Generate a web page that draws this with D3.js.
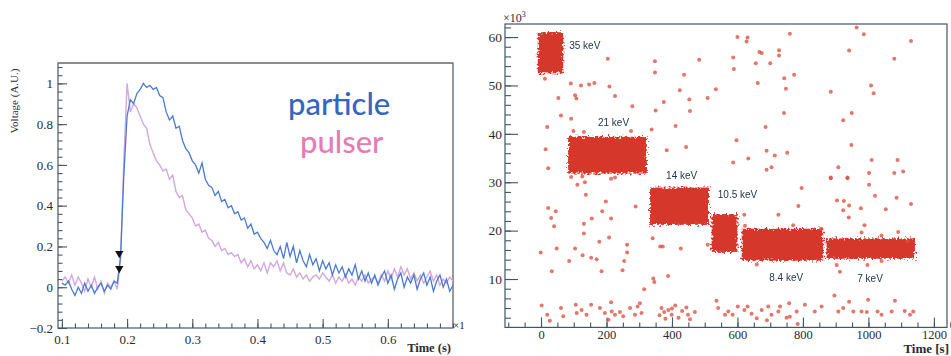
<!DOCTYPE html>
<html><head><meta charset="utf-8">
<script src="https://cdn.jsdelivr.net/npm/d3@7"></script>
<style>
html,body{margin:0;padding:0;background:#fff;}
svg{display:block;}
</style></head>
<body>
<svg id="c" width="951" height="356"></svg>
<script>
// ---------------- LEFT CHART DATA ----------------
const timeS = [0.100,0.105,0.110,0.115,0.120,0.125,0.130,0.135,0.140,0.145,0.150,0.155,0.160,0.165,0.170,0.175,0.180,0.185,0.190,0.195,
0.200,0.205,0.210,0.215,0.220,0.225,0.230,0.235,0.240,0.245,0.250,0.255,0.260,0.265,0.270,0.275,0.280,0.285,0.290,0.295,
0.300,0.305,0.310,0.315,0.320,0.325,0.330,0.335,0.340,0.345,0.350,0.355,0.360,0.365,0.370,0.375,0.380,0.385,0.390,0.395,
0.400,0.405,0.410,0.415,0.420,0.425,0.430,0.435,0.440,0.445,0.450,0.455,0.460,0.465,0.470,0.475,0.480,0.485,0.490,0.495,
0.500,0.505,0.510,0.515,0.520,0.525,0.530,0.535,0.540,0.545,0.550,0.555,0.560,0.565,0.570,0.575,0.580,0.585,0.590,0.595,
0.600,0.605,0.610,0.615,0.620,0.625,0.630,0.635,0.640,0.645,0.650,0.655,0.660,0.665,0.670,0.675,0.680,0.685,0.690,0.695,0.700];
const particleV = [0.02,0.01,0.03,-0.01,-0.04,0.00,-0.03,0.02,-0.02,0.01,-0.03,0.00,0.02,-0.02,0.01,-0.01,0.03,0.02,0.15,0.55,
0.84,0.92,0.90,0.95,0.97,1.00,0.98,0.99,0.97,0.98,0.94,0.93,0.86,0.82,0.84,0.78,0.79,0.72,0.68,0.66,
0.62,0.60,0.56,0.61,0.53,0.50,0.49,0.45,0.47,0.42,0.43,0.39,0.40,0.36,0.37,0.33,0.34,0.29,0.31,0.26,
0.27,0.24,0.22,0.19,0.23,0.18,0.16,0.20,0.14,0.22,0.15,0.20,0.12,0.18,0.13,0.10,0.16,0.11,0.14,0.08,
0.13,0.09,0.12,0.06,0.11,0.07,0.10,0.05,0.09,0.06,0.11,0.04,0.08,0.03,0.07,0.02,0.06,0.01,0.05,0.08,
0.02,0.06,-0.01,0.04,0.07,0.00,0.05,0.02,0.06,-0.01,0.04,0.07,0.01,0.05,-0.02,0.03,0.06,0.00,0.04,-0.02,0.01];
const pulserV = [0.03,0.05,0.02,0.06,0.01,0.05,0.02,-0.02,0.04,0.00,0.05,-0.01,0.03,-0.03,0.02,0.00,0.03,-0.01,0.14,0.62,
1.00,0.86,0.90,0.88,0.84,0.80,0.78,0.70,0.66,0.62,0.60,0.57,0.58,0.53,0.55,0.47,0.44,0.45,0.38,0.36,
0.34,0.30,0.31,0.27,0.28,0.24,0.23,0.20,0.22,0.18,0.19,0.16,0.17,0.15,0.16,0.12,0.14,0.10,0.13,0.09,
0.11,0.08,0.12,0.07,0.12,0.10,0.13,0.08,0.12,0.07,0.06,0.09,0.05,0.07,0.04,0.06,0.03,0.05,0.06,0.04,
0.07,0.05,0.03,0.06,0.02,0.05,0.03,0.06,0.02,0.04,0.01,0.05,0.03,0.06,0.02,0.04,0.05,0.02,0.06,0.03,
0.08,0.04,0.09,0.05,0.10,0.06,0.09,0.04,0.07,0.03,0.06,0.02,0.05,0.08,0.03,0.06,0.01,0.04,0.02,0.05,0.03];
const markerT = [0.188, 0.188];
const markerV = [0.166, 0.092];
const leftXMajor = [0.1,0.2,0.3,0.4,0.5,0.6];
const leftYMajor = [-0.2,0,0.2,0.4,0.6,0.8,1];
const legendNames = ["particle","pulser"];

// ---------------- RIGHT CHART DATA ----------------
const bandLabels = ["35 keV","21 keV","14 keV","10.5 keV","8.4 keV","7 keV"];
const bandStart = [-10, 83, 333, 521, 613, 872];
const bandEnd   = [68, 323, 513, 600, 862, 1142];
const bandLow   = [52.5, 31.8, 21.2, 15.6, 13.8, 14.2];
const bandHigh  = [61.0, 39.4, 28.9, 23.4, 20.4, 18.4];
const labelT    = [86, 174, 382, 540, 697, 966];
const labelV    = [57.6, 41.6, 30.7, 26.8, 9.6, 9.4];
const outT = [12,91,122,147,163,204,209,53,104,108,226,279,61,92,19,14,22,348,348,483,437,424,534,509,453,375,350,455,411,338,384,443,99,131,275,92,126,226,
600,631,628,760,964,986,1130,587,667,674,727,727,656,700,589,941,1079,773,743,662,748,885,1008,1016,742,949,923,686,597,948,689,714,752,633,587,689,704,908,1010,1089,1002,1079,1106,885,936,
111,134,214,137,198,22,45,187,289,31,155,214,40,131,131,208,178,48,104,263,263,-1,127,153,170,86,254,33,185,249,341,364,372,427,509,343,346,388,315,
2,19,27,61,68,106,109,124,139,153,180,195,214,216,226,241,251,206,272,287,302,307,295,368,376,389,399,431,444,449,470,536,541,562,362,380,410,420,455,400,
885,936,796,1002,1020,1086,904,925,941,923,977,1053,1130,786,725,940,621,623,770,855,988,1040,979,1091,1120,659,903,913,997,1040,896,941,999,1081,758,
572,585,601,621,631,643,659,674,694,704,725,730,781,784,806,836,857,908,923,954,979,995,1028,1040,1071,1111,1127,1137,750,690,760];
const outV = [51.4,50.4,50,50.2,50.5,55.5,49.8,47.4,48,47.3,47.8,45.7,43.8,43.1,41.4,36.8,32.9,55,52.7,55.3,52.2,49,49.2,47.4,47.1,46.6,44.8,44.7,41.6,40.9,36.6,37.3,40.6,40.4,40.6,31.1,31.2,31.0,
60,59.9,59.1,60.7,62,60.6,59.2,55.8,56.9,56.7,57.3,56.2,54.6,54.6,53.4,57.2,55.5,52.2,51.5,50.5,49.3,48.7,50,48.4,44.3,44.3,42.8,41.4,38.7,37.7,36.5,35.5,36.1,34.9,34.1,32.6,33.1,33.1,34.6,34.6,31.9,31.9,32.2,31,31,
29.5,30,30.7,27.4,26,24.7,24,24,25,22.6,22.5,22.5,20.9,21.4,19.4,18.6,17.7,16.3,16.3,17.1,15.5,15.5,14.9,14.4,14.1,13.7,13.7,11.6,11.6,11.8,18.4,16.7,16.7,16.3,17.1,10.1,9.4,10.6,7.9,
4.5,2.6,1.4,4,2.3,4.7,3,3.6,2.6,4.7,4,3,5.2,3.3,2.6,3.2,2.3,1.6,4,2.6,5,3,4.3,4,3.2,3.6,2.6,3.4,4.1,2.6,3.2,5.5,4,2.6,2.5,1.8,4.5,2.0,1.7,3.9,
30.8,30.8,28.8,29.5,27.2,26.8,26.2,26.1,25.2,24.2,24.6,24.4,25.5,25.1,23.3,22.7,23.3,21,21.1,20.4,21.1,19,19.6,19.7,17.8,13,12.9,11.5,12.9,13.7,6.6,5.3,5.7,5.5,5,
3.3,2.6,4.3,3.6,4.3,2.8,1.9,3.6,4.3,2.6,3.3,4.3,3.3,0.7,4.7,3.3,4.3,3.3,4,3.3,3.3,3.2,3.3,2.6,3.3,3.4,2.6,3.3,2.0,1.5,2.2];
const rightXMajor = [0,200,400,600,800,1000,1200];
const rightYMajor = [10,20,30,40,50,60];

// ---------------- DRAW ----------------
const svg = d3.select("#c");
const defs = svg.append("defs");
const rough = defs.append("filter").attr("id","rough").attr("x","-10%").attr("y","-20%").attr("width","120%").attr("height","140%");
rough.append("feTurbulence").attr("type","fractalNoise").attr("baseFrequency","0.5").attr("numOctaves",2).attr("seed",4).attr("result","noise");
rough.append("feDisplacementMap").attr("in","SourceGraphic").attr("in2","noise").attr("scale",8).attr("xChannelSelector","R").attr("yChannelSelector","G").attr("result","d");
rough.append("feGaussianBlur").attr("in","d").attr("stdDeviation",0.6);
const soft = defs.append("filter").attr("id","soft");
soft.append("feGaussianBlur").attr("stdDeviation",0.5);
defs.append("clipPath").attr("id","leftclip").append("rect").attr("x",0).attr("y",0).attr("width",464).attr("height",356);

const axisCol = "#4b5662";
const serif = "'Liberation Serif','DejaVu Serif',serif";

// ----- left -----
const L = svg.append("g").attr("clip-path","url(#leftclip)");
const xL = d3.scaleLinear([0.094,0.700],[58,453]);
const yL = d3.scaleLinear([-0.2,1.1],[328,63]);

function styleAxis(g, fs){
  g.attr("font-family",serif);
  g.select(".domain").remove();
  g.selectAll("line").attr("stroke",axisCol).attr("stroke-width",1.1);
  g.selectAll("text").attr("font-family",serif).attr("font-size",fs).attr("fill","#2a2a33");
}
const xLminor = d3.range(0, 31).map(i => +(0.1 + i*0.02).toFixed(3));
L.append("g").attr("transform","translate(0,328)")
  .call(d3.axisBottom(xL).tickValues(xLminor).tickSize(-4.5).tickFormat(""))
  .call(g=>styleAxis(g,13));
L.append("g").attr("transform","translate(0,328)")
  .call(d3.axisBottom(xL).tickValues(leftXMajor).tickSize(-9).tickPadding(7).tickFormat(d3.format(".1f")))
  .call(g=>styleAxis(g,13));
const yLminor = d3.range(0, 33).map(i => +(-0.2 + i*0.04).toFixed(3));
L.append("g").attr("transform","translate(58,0)")
  .call(d3.axisLeft(yL).tickValues(yLminor).tickSize(-4.5).tickFormat(""))
  .call(g=>styleAxis(g,13));
L.append("g").attr("transform","translate(58,0)")
  .call(d3.axisLeft(yL).tickValues(leftYMajor).tickSize(-9).tickPadding(5).tickFormat(d => d===0?"0":d===1?"1":d3.format(".1f")(d)))
  .call(g=>styleAxis(g,13));
L.append("rect").attr("x",58).attr("y",63).attr("width",395).attr("height",265)
  .attr("fill","none").attr("stroke",axisCol).attr("stroke-width",1.2);
L.append("line").attr("x1",58).attr("x2",453).attr("y1",63).attr("y2",63).attr("stroke","#8b7d78").attr("stroke-width",1.2);

const lineL = d3.line().x((d,i)=>xL(timeS[i])).y(d=>yL(d));
L.append("path").datum(pulserV).attr("d",lineL).attr("fill","none").attr("stroke","#d2a8de").attr("stroke-width",1.4);
L.append("path").datum(particleV).attr("d",lineL).attr("fill","none").attr("stroke","#4a7bd0").attr("stroke-width",1.3);
L.selectAll(".mk").data(markerT).enter().append("path")
  .attr("d", d3.symbol(d3.symbolTriangle, 30))
  .attr("transform",(d,i)=>`translate(${xL(d)},${yL(markerV[i])}) rotate(180)`)
  .attr("fill","#111");

L.append("text").attr("x",288).attr("y",115).text(legendNames[0])
  .attr("font-family","Lato, 'Open Sans', sans-serif").attr("font-size",31).attr("font-weight",500).attr("fill","#3566bd");
L.append("text").attr("x",300).attr("y",153).text(legendNames[1])
  .attr("font-family","Lato, 'Open Sans', sans-serif").attr("font-size",31).attr("font-weight",500).attr("fill","#e57cb4");

L.append("text").attr("transform","translate(18,101) rotate(-90)").attr("text-anchor","middle")
  .attr("font-family",serif).attr("font-size",11).attr("fill","#2a2a33").text("Voltage (A.U.)");
L.append("text").attr("x",451).attr("y",352).attr("text-anchor","end")
  .attr("font-family",serif).attr("font-size",12.5).attr("font-weight","bold").attr("fill","#2a2a33").text("Time (s)");
L.append("text").attr("x",453).attr("y",329)
  .attr("font-family",serif).attr("font-size",11).attr("fill","#2a2a33").text("×10");

// ----- right -----
const R = svg.append("g");
const xR = d3.scaleLinear([-110,1240],[505,947]);
const yR = d3.scaleLinear([0,62.7],[327.4,24]);
const rAxisCol = "#3e5669";
function styleR(g, fs){
  g.attr("font-family",serif);
  g.select(".domain").remove();
  g.selectAll("line").attr("stroke",rAxisCol).attr("stroke-width",1.1);
  g.selectAll("text").attr("font-family",serif).attr("font-size",fs).attr("fill","#2a2a33");
}
R.append("rect").attr("x",505).attr("y",24).attr("width",442).attr("height",303.4)
  .attr("fill","none").attr("stroke",rAxisCol).attr("stroke-width",1.2);
const xRminor = d3.range(0, 28).map(i => -100 + i*50);
R.append("g").attr("transform","translate(0,327.4)")
  .call(d3.axisBottom(xR).tickValues(xRminor).tickSize(-5).tickFormat("")).call(g=>styleR(g,12));
R.append("g").attr("transform","translate(0,327.4)")
  .call(d3.axisBottom(xR).tickValues(rightXMajor).tickSize(-10).tickPadding(3).tickFormat(d3.format("d"))).call(g=>styleR(g,12.5));
const yRminor = d3.range(1, 32).map(i => i*2);
R.append("g").attr("transform","translate(505,0)")
  .call(d3.axisLeft(yR).tickValues(yRminor).tickSize(-6).tickFormat("")).call(g=>styleR(g,13));
R.append("g").attr("transform","translate(505,0)")
  .call(d3.axisLeft(yR).tickValues(rightYMajor).tickSize(-13).tickPadding(3)).call(g=>styleR(g,13.5));

const xt = R.append("text").attr("x",503).attr("y",22).attr("font-family",serif).attr("font-size",12).attr("fill","#2a2a33");
xt.append("tspan").text("×10");
xt.append("tspan").attr("dy",-5).attr("font-size",8).text("3");
R.append("text").attr("x",949).attr("y",352.5).attr("text-anchor","end")
  .attr("font-family",serif).attr("font-size",13).attr("font-weight","bold").attr("fill","#2a2a33").text("Time [s]");

R.append("g").attr("filter","url(#rough)").selectAll("rect").data(bandStart).enter().append("rect")
  .attr("x",(d)=>xR(d)).attr("width",(d,i)=>xR(bandEnd[i])-xR(d))
  .attr("y",(d,i)=>yR(bandHigh[i])).attr("height",(d,i)=>yR(bandLow[i])-yR(bandHigh[i]))
  .attr("fill","#d5392b");
R.append("g").attr("filter","url(#soft)").selectAll("circle").data(outT).enter().append("circle")
  .attr("cx",d=>xR(d)).attr("cy",(d,i)=>yR(outV[i])).attr("r",2.0)
  .attr("fill","#dd5040").attr("opacity",0.78);
R.selectAll(".bl").data(bandLabels).enter().append("text")
  .attr("x",(d,i)=>xR(labelT[i])).attr("y",(d,i)=>yR(labelV[i]))
  .attr("font-family","'Liberation Sans', Arial, sans-serif").attr("font-size",10).attr("fill","#23374b")
  .text(d=>d);
</script>
</body></html>
